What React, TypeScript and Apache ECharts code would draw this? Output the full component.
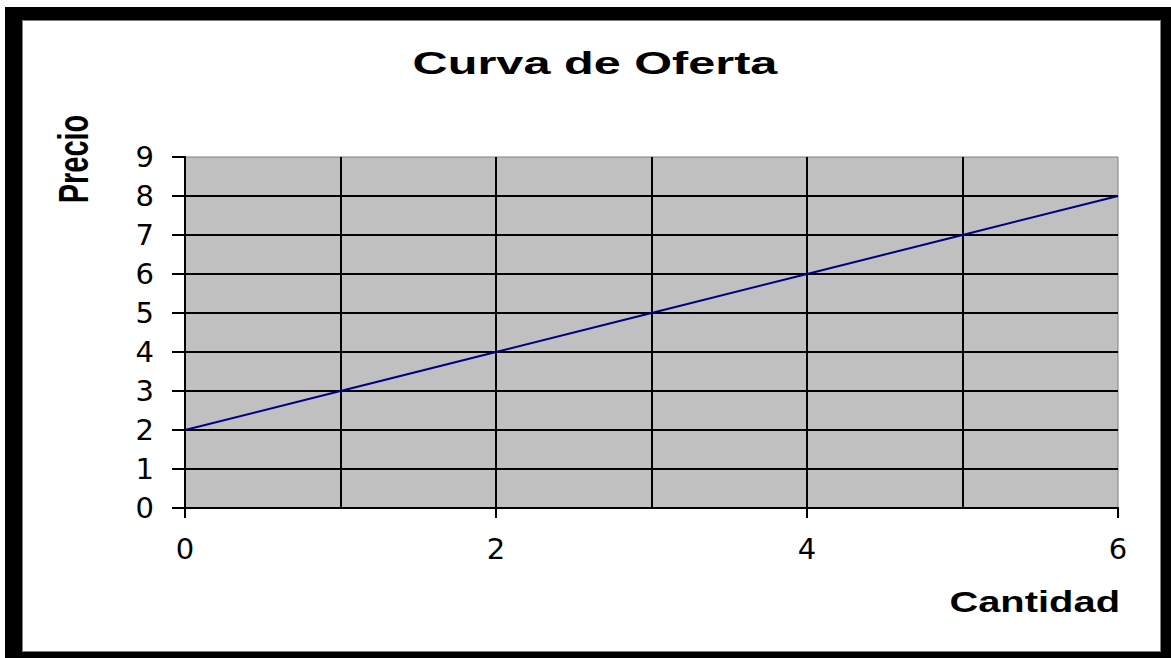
import React, { useEffect, useRef } from 'react';
import * as echarts from 'echarts';

const cantidad = [0, 1, 2, 3, 4, 5, 6];
const precio = [2, 3, 4, 5, 6, 7, 8];
const titleText = 'Curva de Oferta';
const xName = 'Cantidad';
const yName = 'Precio';

export default function App() {
  const ref = useRef<HTMLDivElement>(null);
  useEffect(() => {
    const chart = echarts.init(ref.current!, null, { renderer: 'svg' });
    chart.setOption({
      animation: false,
      grid: {
        left: 185,
        right: 53,
        top: 157,
        bottom: 150,
        show: true,
        backgroundColor: '#c0c0c0',
        borderColor: '#808080',
        borderWidth: 1,
      },
      xAxis: {
        type: 'value',
        min: 0,
        max: 6,
        interval: 2,
        axisLine: { show: true, lineStyle: { color: '#000', width: 2 } },
        axisTick: { show: true, length: 10, lineStyle: { color: '#000', width: 2 } },
        minorTick: { show: false, splitNumber: 2 },
        splitLine: { show: true, showMaxLine: false, lineStyle: { color: '#000', width: 2 } },
        minorSplitLine: { show: true, lineStyle: { color: '#000', width: 2 } },
        axisLabel: { fontSize: 29, fontFamily: 'DejaVu Sans', color: '#000', margin: 26 },
      },
      yAxis: {
        type: 'value',
        min: 0,
        max: 9,
        interval: 1,
        axisLine: { show: true, lineStyle: { color: '#000', width: 2 } },
        axisTick: { show: true, length: 13, lineStyle: { color: '#000', width: 2 } },
        splitLine: { show: true, showMaxLine: false, lineStyle: { color: '#000', width: 2 } },
        axisLabel: { fontSize: 29, fontFamily: 'DejaVu Sans', color: '#000', margin: 31 },
      },
      series: [
        {
          type: 'line',
          data: cantidad.map((c, i) => [c, precio[i]]),
          showSymbol: false,
          lineStyle: { color: '#000080', width: 2 },
          z: 5,
        },
      ],
      graphic: [
        {
          type: 'text',
          x: 595,
          y: 63,
          scaleX: 1.52,
          style: {
            text: titleText,
            font: 'bold 32px "Liberation Sans"',
            fill: '#000',
            textAlign: 'center',
            textVerticalAlign: 'middle',
          },
        },
        {
          type: 'text',
          x: 73,
          y: 159,
          rotation: Math.PI / 2,
          scaleY: 1.45,
          style: {
            text: yName,
            font: 'bold 29px "Liberation Sans"',
            fill: '#000',
            textAlign: 'center',
            textVerticalAlign: 'middle',
          },
        },
        {
          type: 'text',
          x: 1120,
          y: 601,
          scaleX: 1.33,
          style: {
            text: xName,
            font: 'bold 30px "Liberation Sans"',
            fill: '#000',
            textAlign: 'right',
            textVerticalAlign: 'middle',
          },
        },
      ],
    });
    return () => chart.dispose();
  }, []);
  return (
    <div style={{ position: 'fixed', left: 0, top: 0, width: 1171, height: 658, background: '#fff' }}>
      <div style={{ position: 'absolute', left: 5, top: 7, width: 1166, height: 651, background: '#000' }} />
      <div
        style={{
          position: 'absolute',
          left: 22,
          top: 20,
          width: 1139,
          height: 632,
          background: '#fff',
          boxSizing: 'border-box',
          border: '1px solid #808080',
        }}
      />
      <div ref={ref} style={{ position: 'absolute', left: 0, top: 0, width: 1171, height: 658 }} />
    </div>
  );
}
